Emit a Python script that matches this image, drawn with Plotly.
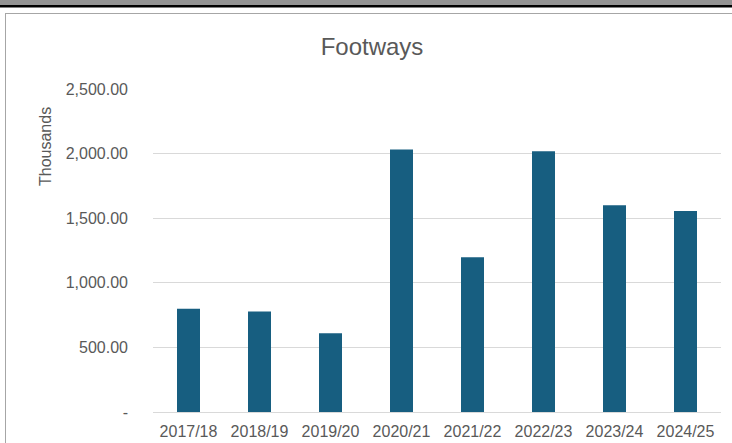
import plotly.graph_objects as go

# Footway spend per financial year (thousands)
years = ["2017/18", "2018/19", "2019/20", "2020/21", "2021/22", "2022/23", "2023/24", "2024/25"]
spend = [800, 777, 610, 2032, 1198, 2019, 1601, 1555]

y_ticks = [0, 500, 1000, 1500, 2000, 2500]
y_tick_text = ["-", "500.00", "1,000.00", "1,500.00", "2,000.00", "2,500.00"]

W, H = 732, 443
ML, MR, MT, MB = 153, 11, 89, 31
PW, PH = W - ML - MR, H - MT - MB

FONT = "Liberation Sans, Arial, sans-serif"
TEXT = "#595959"
BAR = "#175e80"
GRID = "#d9d9d9"


def px_x(p):
    return (p - ML) / PW


def px_y(p):
    return (H - MB - p) / PH


fig = go.Figure(
    go.Bar(x=years, y=spend, marker=dict(color=BAR, line=dict(width=0)))
)

shapes = [
    # window chrome above the chart frame
    dict(type="rect", xref="paper", yref="paper", x0=px_x(0), x1=px_x(W),
         y0=px_y(0), y1=px_y(5), fillcolor="#939393", line=dict(width=0), layer="above"),
    dict(type="rect", xref="paper", yref="paper", x0=px_x(0), x1=px_x(W),
         y0=px_y(5), y1=px_y(7.5), fillcolor="#000000", line=dict(width=0), layer="above"),
    # chart frame: top and left edges
    dict(type="line", xref="paper", yref="paper", x0=px_x(5), x1=px_x(W),
         y0=px_y(13.5), y1=px_y(13.5), line=dict(color="#a6a6a6", width=1), layer="above"),
    dict(type="line", xref="paper", yref="paper", x0=px_x(5.5), x1=px_x(5.5),
         y0=px_y(13), y1=px_y(H), line=dict(color="#a6a6a6", width=1), layer="above"),
]

fig.update_layout(
    width=W,
    height=H,
    margin=dict(l=ML, r=MR, t=MT, b=MB, pad=0),
    paper_bgcolor="white",
    plot_bgcolor="white",
    showlegend=False,
    bargap=0.676,
    font=dict(family=FONT, size=16, color=TEXT),
    title=dict(
        text="Footways",
        x=372 / W, xref="container", xanchor="center",
        y=1 - 47 / H, yref="container", yanchor="middle",
        font=dict(family=FONT, size=24, color=TEXT),
    ),
    shapes=shapes,
    annotations=[
        dict(text="Thousands", xref="paper", yref="paper", x=px_x(45.5), y=px_y(146.5),
             xanchor="center", yanchor="middle", textangle=-90, showarrow=False,
             font=dict(family=FONT, size=16, color=TEXT)),
    ],
)

fig.update_xaxes(
    automargin=False,
    showgrid=False,
    showline=False,
    ticks="",
    ticklabelstandoff=8,
    tickfont=dict(family=FONT, size=16, color=TEXT),
)
fig.update_yaxes(
    automargin=False,
    range=[0, 2500],
    tickvals=y_ticks,
    ticktext=y_tick_text,
    showgrid=True,
    gridcolor=GRID,
    gridwidth=1,
    zeroline=True,
    zerolinecolor=GRID,
    zerolinewidth=1,
    showline=False,
    ticks="",
    ticklabelstandoff=24,
    tickfont=dict(family=FONT, size=16, color=TEXT),
)

fig.write_html("out.html")
